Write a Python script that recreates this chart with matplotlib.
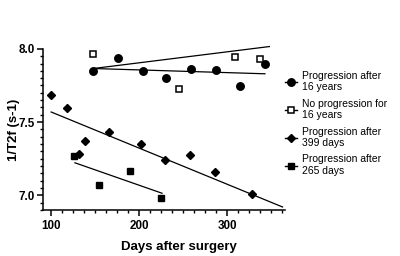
import numpy as np
import matplotlib
matplotlib.use("Agg")
import matplotlib.pyplot as plt
from matplotlib.ticker import MultipleLocator, FormatStrFormatter
from matplotlib.lines import Line2D

plt.rcParams['font.family'] = ['Liberation Sans', 'DejaVu Sans']

# Progression after 16 years (filled circles)
circ_x = [148, 176, 204, 231, 259, 287, 315, 343]
circ_y = [7.846, 7.937, 7.850, 7.803, 7.864, 7.859, 7.744, 7.898]
circ_fit_x = [148, 343]
circ_fit_y = [7.866, 7.830]

# No progression for 16 years (open squares)
osq_x = [147, 245, 309, 337]
osq_y = [7.966, 7.728, 7.948, 7.932]
osq_fit_x = [148, 348]
osq_fit_y = [7.866, 8.016]

# Progression after 399 days (diamonds)
dia_x = [100, 118, 132, 139, 166, 202, 229, 258, 286, 328]
dia_y = [7.682, 7.597, 7.279, 7.374, 7.431, 7.352, 7.240, 7.274, 7.156, 7.012]
dia_fit_x = [100, 363]
dia_fit_y = [7.569, 6.920]

# Progression after 265 days (filled squares)
fsq_x = [126, 154, 190, 225]
fsq_y = [7.267, 7.070, 7.165, 6.982]
fsq_fit_x = [127, 226]
fsq_fit_y = [7.222, 7.014]

labels = ["Progression after\n16 years", "No progression for\n16 years",
          "Progression after\n399 days", "Progression after\n265 days"]

fig = plt.figure(figsize=(4.0, 2.56), dpi=100)
ax = fig.add_axes([0.107, 0.18, 0.606, 0.629])

# regression lines
lw_fit = 0.9
ax.plot(circ_fit_x, circ_fit_y, color='black', lw=lw_fit, clip_on=False)
ax.plot(osq_fit_x, osq_fit_y, color='black', lw=lw_fit, clip_on=False)
ax.plot(dia_fit_x, dia_fit_y, color='black', lw=lw_fit, clip_on=False)
ax.plot(fsq_fit_x, fsq_fit_y, color='black', lw=lw_fit, clip_on=False)

# points
ax.plot(circ_x, circ_y, 'o', color='black', ms=5.4, lw=0)
ax.plot(osq_x, osq_y, 's', mfc='white', mec='black', mew=1.1, ms=5.0, lw=0)
ax.plot(dia_x, dia_y, 'D', color='black', ms=3.6, lw=0)
ax.plot(fsq_x, fsq_y, 's', color='black', ms=5.0, lw=0)

ax.set_xlim(90.5, 366)
ax.set_ylim(6.9, 8.0)
ax.xaxis.set_major_locator(MultipleLocator(100))
ax.xaxis.set_minor_locator(MultipleLocator(12.5))
ax.yaxis.set_major_locator(MultipleLocator(0.5))
ax.yaxis.set_minor_locator(MultipleLocator(0.05))
ax.yaxis.set_major_formatter(FormatStrFormatter('%.1f'))

for s in ['top', 'right']:
    ax.spines[s].set_visible(False)
for s in ['left', 'bottom']:
    ax.spines[s].set_linewidth(1.1)
ax.tick_params(which='major', length=4.5, width=1.1, labelsize=8.4)
ax.tick_params(axis='x', which='major', pad=3)
ax.tick_params(axis='y', which='major', pad=1.5)
ax.tick_params(which='minor', length=2.5, width=1.0)
for t in ax.get_xticklabels() + ax.get_yticklabels():
    t.set_fontweight('bold')

ax.set_xlabel("Days after surgery", fontsize=9.5, fontweight='bold')
ax.xaxis.set_label_coords(0.5625, -0.19)
ax.set_ylabel("1/T2f (s-1)", fontsize=9.5, fontweight='bold')
ax.yaxis.set_label_coords(-0.095, 0.5)

handles = [
    Line2D([], [], marker='o', color='black', ms=5.4, lw=1),
    Line2D([], [], marker='s', mfc='white', mec='black', color='black', mew=1.1, ms=5.0, lw=1),
    Line2D([], [], marker='D', color='black', ms=3.6, lw=1),
    Line2D([], [], marker='s', color='black', ms=5.0, lw=1),
]
fig.legend(handles, labels, loc='upper left', bbox_to_anchor=(0.69, 0.76),
           frameon=False, fontsize=7.5, handlelength=1.1, handletextpad=0.5,
           labelspacing=0.6)

fig.savefig("out.png", dpi=100)
